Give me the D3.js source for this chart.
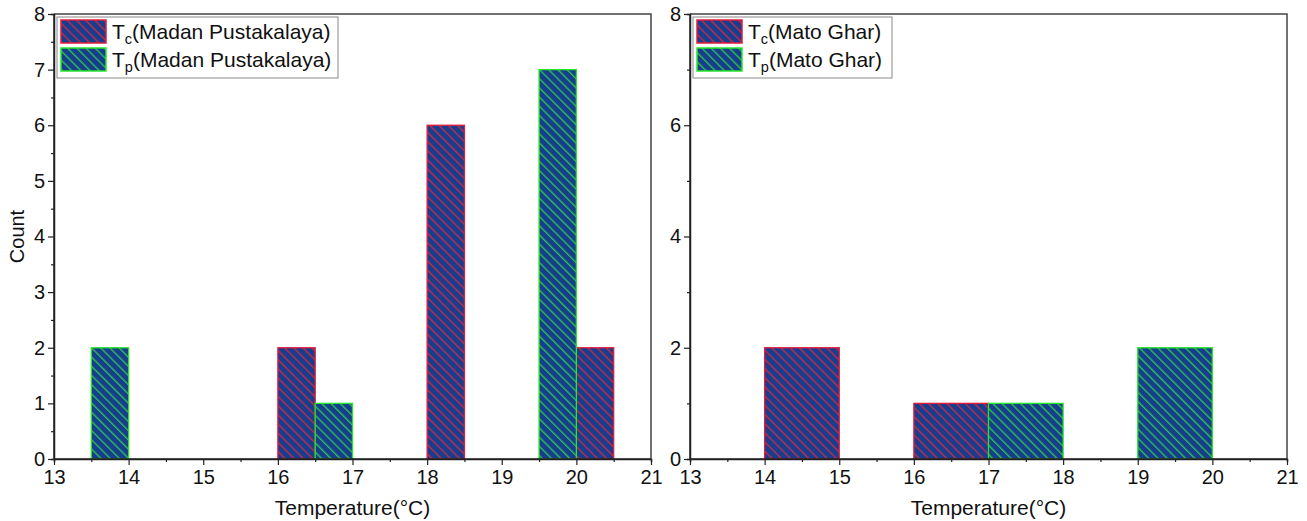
<!DOCTYPE html>
<html><head><meta charset="utf-8">
<script src="https://cdn.jsdelivr.net/npm/d3@7"></script>
<style>body{margin:0;background:#fff}svg{display:block}text{font-family:"Liberation Sans",Arial,sans-serif}</style>
</head><body>
<svg id="c" width="1307" height="521"></svg>
<script>
// Data (bins: [start, end, count])
const leftTc = [[16,16.5,2],[18,18.5,6],[20,20.5,2]];
const leftTp = [[13.5,14,2],[16.5,17,1],[19.5,20,7]];
const rightTc = [[14,15,2],[16,17,1]];
const rightTp = [[17,18,1],[19,20,2]];
const xTicks = [13,14,15,16,17,18,19,20,21];
const leftYTicks = [0,1,2,3,4,5,6,7,8];
const rightYTicks = [0,2,4,6,8];
const leftNames = ["Madan Pustakalaya","Madan Pustakalaya"];
const rightNames = ["Mato Ghar","Mato Ghar"];

const svg = d3.select("#c");
const defs = svg.append("defs");
const FILL = "#173d8e";
function pat(id, col){
  const p = defs.append("pattern").attr("id",id).attr("patternUnits","userSpaceOnUse")
    .attr("width",6.5).attr("height",6.5).attr("patternTransform","rotate(-45)");
  p.append("rect").attr("width",6.5).attr("height",6.5).attr("fill",FILL);
  p.append("line").attr("x1",0.7).attr("y1",0).attr("x2",0.7).attr("y2",6.5).attr("stroke",col).attr("stroke-width",1.3);
}
pat("hr","#d02a44"); pat("hg","#2fc84a");
const series = [{fill:"url(#hr)",stroke:"#e01c3c",sub:"c"},{fill:"url(#hg)",stroke:"#27e62a",sub:"p"}];

function panel(x0,x1,yTicks,minorStep,tc,tp,names,legW,ylabel){
  const y0=459,yTop=14;
  const x=d3.scaleLinear().domain([13,21]).range([x0,x1]);
  const y=d3.scaleLinear().domain([0,8]).range([y0,yTop]);
  const g=svg.append("g");
  [[tc,series[0]],[tp,series[1]]].forEach(([d,s])=>{
    g.selectAll(null).data(d).join("rect")
      .attr("x",b=>x(b[0])).attr("width",b=>x(b[1])-x(b[0]))
      .attr("y",b=>y(b[2])).attr("height",b=>y(0)-y(b[2]))
      .attr("fill",s.fill).attr("stroke",s.stroke).attr("stroke-width",1.3);
  });
  // frame
  g.append("path").attr("d",`M${x0},${yTop}H${x1}V${y0}`).attr("fill","none").attr("stroke","#444").attr("stroke-width",1.5);
  // axes
  const xa=g.append("g").attr("transform",`translate(0,${y0})`)
    .call(d3.axisBottom(x).tickValues(xTicks).tickFormat(d3.format("d")).tickSize(6).tickPadding(5));
  const xm=g.append("g").attr("transform",`translate(0,${y0})`)
    .call(d3.axisBottom(x).tickValues(d3.range(13.5,21,1)).tickFormat("").tickSize(3));
  const ya=g.append("g").attr("transform",`translate(${x0},0)`)
    .call(d3.axisLeft(y).tickValues(yTicks).tickFormat(d3.format("d")).tickSize(6).tickPadding(3));
  const ym=g.append("g").attr("transform",`translate(${x0},0)`)
    .call(d3.axisLeft(y).tickValues(d3.range(minorStep,8,minorStep*2)).tickFormat("").tickSize(3));
  [xa,xm,ya,ym].forEach(a=>{
    a.attr("font-size",20).attr("font-family","Liberation Sans, Arial, sans-serif");
    a.select(".domain").attr("stroke","#222").attr("stroke-width",1.5);
    a.selectAll(".tick line").attr("stroke","#222").attr("stroke-width",1.2);
    a.selectAll("text").attr("fill","#111");
  });
  xa.select(".domain").attr("d",`M${x0},0H${x1}`);
  ya.select(".domain").attr("d",`M0,${y0}V${yTop}`);
  g.append("text").attr("x",(x0+x1)/2).attr("y",515).attr("text-anchor","middle").attr("font-size",21).attr("fill","#111").text("Temperature(°C)");
  if(ylabel) g.append("text").attr("transform",`translate(24,${(y0+yTop)/2}) rotate(-90)`).attr("text-anchor","middle").attr("font-size",20).attr("fill","#111").text(ylabel);
  // legend
  const lx=x0+3, ly=17;
  g.append("rect").attr("x",lx).attr("y",ly).attr("width",legW).attr("height",61).attr("fill","#fff").attr("stroke","#888").attr("stroke-width",1);
  series.forEach((s,i)=>{
    const yy=ly+3+i*28;
    g.append("rect").attr("x",lx+4).attr("y",yy).attr("width",45).attr("height",23).attr("fill",s.fill).attr("stroke",s.stroke).attr("stroke-width",1.5);
    const t=g.append("text").attr("x",lx+55).attr("y",yy+19).attr("font-size",21).attr("fill","#111");
    t.append("tspan").text("T");
    t.append("tspan").attr("font-size",14.5).attr("dy",5).text(s.sub);
    t.append("tspan").attr("dy",-5).text("("+names[i]+")");
  });
}
panel(54,651,leftYTicks,0.5,leftTc,leftTp,leftNames,281,"Count");
panel(690,1287,rightYTicks,1,rightTc,rightTp,rightNames,199,null);
</script>
</body></html>
